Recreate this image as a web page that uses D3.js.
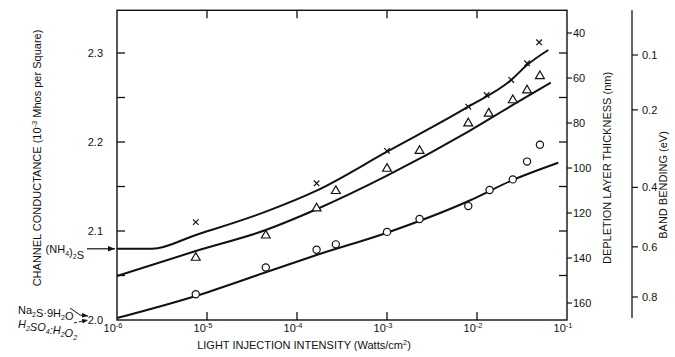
<!DOCTYPE html>
<html>
<head>
<meta charset="utf-8">
<script src="https://cdn.jsdelivr.net/npm/d3@7"></script>
<style>
  body { margin: 0; background: #fff; }
  svg { display: block; font-family: "Liberation Sans", Arial, sans-serif; }
  .tick { font-size: 11px; fill: #111; }
  .title { font-size: 11px; fill: #111; }
</style>
</head>
<body>
<svg id="chart" width="675" height="357"></svg>
<script>
// measured points (intensity in W/cm2, conductance in 1e-3 mhos/sq)
let circleI = [7.5e-6, 4.5e-5, 1.65e-4, 2.7e-4, 1e-3, 2.3e-3, 8e-3, 1.38e-2, 2.5e-2, 3.6e-2, 5e-2];
let circleG = [2.029, 2.059, 2.079, 2.085, 2.099, 2.1135, 2.128, 2.146, 2.158, 2.178, 2.197];

let triangleI = [7.5e-6, 4.5e-5, 1.65e-4, 2.7e-4, 1e-3, 2.3e-3, 8e-3, 1.35e-2, 2.5e-2, 3.6e-2, 5e-2];
let triangleG = [2.070, 2.095, 2.1255, 2.145, 2.170, 2.190, 2.221, 2.232, 2.247, 2.258, 2.274];

let crossI = [7.5e-6, 1.65e-4, 1e-3, 8e-3, 1.28e-2, 2.4e-2, 3.6e-2, 4.9e-2];
let crossG = [2.110, 2.1536, 2.190, 2.2397, 2.2528, 2.2697, 2.2884, 2.312];

// fitted curves
let topCurveI = [1e-6, 2.45e-6, 7.5e-6, 4.5e-5, 1.65e-4, 1e-3, 8e-3, 2.4e-2, 3.6e-2, 6.2e-2];
let topCurveG = [2.080, 2.080, 2.0955, 2.1217, 2.1453, 2.1891, 2.2397, 2.2697, 2.2865, 2.3034];

let midCurveI = [1e-6, 7.5e-6, 4.5e-5, 1.65e-4, 1e-3, 8e-3, 2.5e-2, 6.6e-2];
let midCurveG = [2.0494, 2.0775, 2.1011, 2.1244, 2.1621, 2.2116, 2.2416, 2.2666];

let lowCurveI = [1e-6, 7.5e-6, 4.5e-5, 1.65e-4, 1e-3, 8.2e-3, 2.5e-2, 8e-2];
let lowCurveG = [2.0022, 2.027, 2.0536, 2.073, 2.0981, 2.134, 2.1573, 2.1767];

// axis ticks
let xTicks = [1e-6, 1e-5, 1e-4, 1e-3, 1e-2, 1e-1];
let xExponents = ["-6", "-5", "-4", "-3", "-2", "-1"];
let gMajor = [2.0, 2.1, 2.2, 2.3];
let gMinor = [2.05, 2.1, 2.15, 2.2, 2.25, 2.3];
let depletionTicks = [40, 60, 80, 100, 120, 140, 160];
let bendingTicks = [0.1, 0.2, 0.4, 0.6, 0.8];

let svg = d3.select("#chart");

let x = d3.scaleLog().domain([1e-6, 1e-1]).range([117, 567]);
let y = d3.scaleLinear().domain([2.0, 2.3]).range([320, 53]);
let yDepl = d3.scaleLinear().domain([40, 160]).range([33, 303]);
let yBand = d3.scalePow().exponent(0.5).domain([0.1, 0.8]).range([55, 297]);

let plotLeft = x(1e-6), plotRight = x(1e-1), plotBottom = y(2.0), plotTop = y(2.348);

// frame
svg.append("rect")
    .attr("x", plotLeft).attr("y", plotTop)
    .attr("width", plotRight - plotLeft).attr("height", plotBottom - plotTop)
    .attr("fill", "none").attr("stroke", "#111").attr("stroke-width", 1.4);

// inner ticks on top and bottom at decades
let inner = xTicks.slice(1, 5);
svg.selectAll(".xtb")
    .data(inner).enter().append("line")
    .attr("x1", d => x(d)).attr("x2", d => x(d))
    .attr("y1", plotBottom).attr("y2", plotBottom - 8)
    .attr("stroke", "#111").attr("stroke-width", 1.3);
svg.selectAll(".xtt")
    .data(inner).enter().append("line")
    .attr("x1", d => x(d)).attr("x2", d => x(d))
    .attr("y1", plotTop).attr("y2", plotTop + 8)
    .attr("stroke", "#111").attr("stroke-width", 1.3);

// inner ticks on left and right for conductance
svg.selectAll(".ytl")
    .data(gMinor).enter().append("line")
    .attr("x1", plotLeft).attr("x2", plotLeft + 8)
    .attr("y1", d => y(d)).attr("y2", d => y(d))
    .attr("stroke", "#111").attr("stroke-width", 1.3);
svg.selectAll(".ytr")
    .data(gMinor).enter().append("line")
    .attr("x1", plotRight).attr("x2", plotRight - 8)
    .attr("y1", d => y(d)).attr("y2", d => y(d))
    .attr("stroke", "#111").attr("stroke-width", 1.3);

// x tick labels
let xl = svg.selectAll(".xl")
    .data(xTicks).enter().append("text")
    .attr("class", "tick")
    .attr("x", d => x(d) - 4)
    .attr("y", plotBottom + 12)
    .attr("text-anchor", "middle");
xl.append("tspan").text("10");
xl.append("tspan")
    .attr("font-size", "7.5px")
    .attr("dy", -4)
    .text((d, i) => xExponents[i]);

// left tick labels
svg.selectAll(".yl")
    .data(gMajor).enter().append("text")
    .attr("class", "tick")
    .attr("x", plotLeft - 14)
    .attr("y", d => y(d) + 4)
    .attr("text-anchor", "end")
    .text(d => d3.format(".1f")(d));

// depletion axis (outer ticks on right)
svg.selectAll(".dt")
    .data(depletionTicks).enter().append("line")
    .attr("x1", plotRight).attr("x2", plotRight + 5)
    .attr("y1", d => yDepl(d)).attr("y2", d => yDepl(d))
    .attr("stroke", "#111").attr("stroke-width", 1.2);
svg.selectAll(".dl")
    .data(depletionTicks).enter().append("text")
    .attr("class", "tick")
    .attr("x", plotRight + 6)
    .attr("y", d => yDepl(d) + 4)
    .text(d => d);

// band bending axis
let bx = 632;
svg.append("line")
    .attr("x1", bx).attr("x2", bx)
    .attr("y1", plotTop).attr("y2", 318)
    .attr("stroke", "#111").attr("stroke-width", 1.3);
svg.selectAll(".bt")
    .data(bendingTicks).enter().append("line")
    .attr("x1", bx).attr("x2", bx + 6)
    .attr("y1", d => yBand(d)).attr("y2", d => yBand(d))
    .attr("stroke", "#111").attr("stroke-width", 1.2);
svg.selectAll(".bl")
    .data(bendingTicks).enter().append("text")
    .attr("class", "tick")
    .attr("x", bx + 10)
    .attr("y", d => yBand(d) + 4)
    .text(d => d3.format(".1f")(d));

// curves
let line = d3.line()
    .x(d => x(d[0]))
    .y(d => y(d[1]))
    .curve(d3.curveMonotoneX);

[[topCurveI, topCurveG], [midCurveI, midCurveG], [lowCurveI, lowCurveG]].forEach(function (c) {
    svg.append("path")
        .datum(d3.zip(c[0], c[1]))
        .attr("d", line)
        .attr("fill", "none")
        .attr("stroke", "#111")
        .attr("stroke-width", 2);
});

// markers
svg.selectAll(".circ")
    .data(d3.zip(circleI, circleG)).enter().append("circle")
    .attr("cx", d => x(d[0])).attr("cy", d => y(d[1]))
    .attr("r", 3.6)
    .attr("fill", "#fff").attr("stroke", "#111").attr("stroke-width", 1.2);

let tri = d3.symbol().type(d3.symbolTriangle).size(34);
svg.selectAll(".tri")
    .data(d3.zip(triangleI, triangleG)).enter().append("path")
    .attr("d", tri)
    .attr("transform", d => "translate(" + x(d[0]) + "," + y(d[1]) + ")")
    .attr("fill", "#fff").attr("stroke", "#111").attr("stroke-width", 1.2);

let cross = d3.symbol().type(d3.symbolX).size(22);
svg.selectAll(".crs")
    .data(d3.zip(crossI, crossG)).enter().append("path")
    .attr("d", cross)
    .attr("transform", d => "translate(" + x(d[0]) + "," + y(d[1]) + ")")
    .attr("fill", "none").attr("stroke", "#111").attr("stroke-width", 1.2);

// axis titles
svg.append("text")
    .attr("class", "title")
    .attr("x", 304).attr("y", 349)
    .attr("text-anchor", "middle")
    .call(t => {
        t.append("tspan").text("LIGHT INJECTION INTENSITY (Watts/cm");
        t.append("tspan").attr("font-size", "7.5px").attr("dy", -4).text("2");
        t.append("tspan").attr("dy", 4).text(")");
    });

svg.append("text")
    .attr("class", "title")
    .attr("transform", "translate(41,158) rotate(-90)")
    .attr("text-anchor", "middle")
    .call(t => {
        t.append("tspan").text("CHANNEL CONDUCTANCE (10");
        t.append("tspan").attr("font-size", "7.5px").attr("dy", -4).text("-3");
        t.append("tspan").attr("dy", 4).text(" Mhos per Square)");
    });

svg.append("text")
    .attr("class", "title")
    .attr("transform", "translate(611,168) rotate(-90)")
    .attr("text-anchor", "middle")
    .text("DEPLETION LAYER THICKNESS (nm)");

svg.append("text")
    .attr("class", "title")
    .attr("transform", "translate(667,185) rotate(-90)")
    .attr("text-anchor", "middle")
    .text("BAND BENDING (eV)");

// annotations
function subText(sel, parts) {
    parts.forEach(function (p) {
        if (p.sub) {
            sel.append("tspan").attr("font-size", "7px").attr("dy", 3).text(p.t);
            sel.append("tspan").attr("dy", -3).text("");
        } else {
            sel.append("tspan").text(p.t);
        }
    });
}

let nh = svg.append("text").attr("class", "tick")
    .attr("x", 84).attr("y", y(2.08) + 4)
    .attr("text-anchor", "end");
subText(nh, [{t: "(NH"}, {t: "4", sub: true}, {t: ")"}, {t: "2", sub: true}, {t: "S"}]);

let na = svg.append("text").attr("class", "tick")
    .attr("x", 18).attr("y", 314);
subText(na, [{t: "Na"}, {t: "2", sub: true}, {t: "S\u00b79H"}, {t: "2", sub: true}, {t: "O"}]);

let hs = svg.append("text").attr("class", "tick")
    .attr("x", 18).attr("y", 328).attr("font-style", "italic");
subText(hs, [{t: "H"}, {t: "2", sub: true}, {t: "SO"}, {t: "4", sub: true}, {t: ":H"}, {t: "2", sub: true}, {t: "O"}, {t: "2", sub: true}]);

svg.append("defs").append("marker")
    .attr("id", "arr")
    .attr("viewBox", "0 0 10 10")
    .attr("refX", 10).attr("refY", 5)
    .attr("markerWidth", 6).attr("markerHeight", 6)
    .attr("orient", "auto")
    .append("path").attr("d", "M0,1L10,5L0,9z").attr("fill", "#111");

svg.append("line")
    .attr("x1", 87).attr("x2", plotLeft - 2)
    .attr("y1", y(2.08)).attr("y2", y(2.08))
    .attr("stroke", "#111").attr("stroke-width", 1.2)
    .attr("marker-end", "url(#arr)");

svg.append("path")
    .attr("d", "M70,308L80,315L88,316")
    .attr("fill", "none").attr("stroke", "#111").attr("stroke-width", 1)
    .attr("marker-end", "url(#arr)");
svg.append("path")
    .attr("d", "M74,323L88,320")
    .attr("fill", "none").attr("stroke", "#111").attr("stroke-width", 1)
    .attr("stroke-dasharray", "3,2")
    .attr("marker-end", "url(#arr)");
</script>
</body>
</html>
